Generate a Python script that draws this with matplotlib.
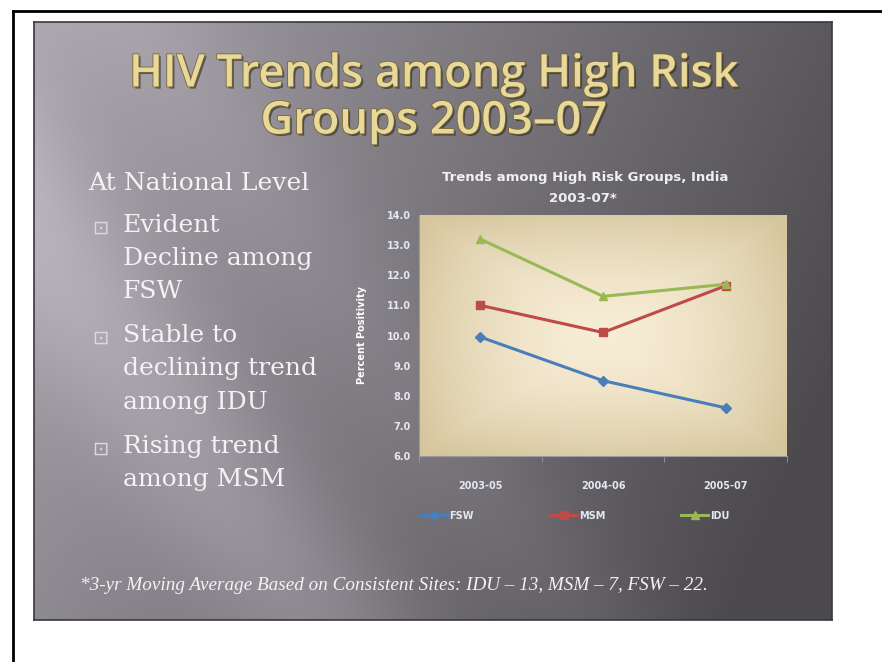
import numpy as np
import matplotlib.pyplot as plt
import matplotlib.patheffects as pe
from matplotlib.lines import Line2D

# data
periods = ['2003-05', '2004-06', '2005-07']
fsw = [9.95, 8.5, 7.6]
msm = [11.0, 10.1, 11.65]
idu = [13.2, 11.3, 11.7]
series_names = ['FSW', 'MSM', 'IDU']
series_colors = ['#4a7ebb', '#be4b48', '#98b954']
series_markers = ['D', 's', '^']
y_ticks = [6.0, 7.0, 8.0, 9.0, 10.0, 11.0, 12.0, 13.0, 14.0]

bullets = [
    ['Evident', 'Decline among', 'FSW'],
    ['Stable to', 'declining trend', 'among IDU'],
    ['Rising trend', 'among MSM'],
]

W, H = 882, 662
fig = plt.figure(figsize=(W / 100, H / 100), dpi=100)
fig.patch.set_facecolor('white')


def fx(px):
    return px / W


def fy(py):
    return 1 - py / H


# frame lines
fig.add_artist(Line2D([fx(13), fx(13)], [fy(11), 0], color='black', lw=2, transform=fig.transFigure))
fig.add_artist(Line2D([fx(13), 1], [fy(11), fy(11)], color='black', lw=2, transform=fig.transFigure))

# slide background
bg = fig.add_axes([fx(34), fy(620), fx(832) - fx(34), fy(22) - fy(620)])
xx, yy = np.meshgrid(np.linspace(0, 1, 400), np.linspace(0, 1, 300))
base = 0.66 - 0.30 * xx - 0.10 * yy
streak = 0.10 * np.exp(-((xx * 0.9 + (1 - yy) * 0.5 - 0.32) / 0.12) ** 2)
streak2 = 0.04 * np.exp(-((xx * 0.9 + (1 - yy) * 0.5 - 0.62) / 0.10) ** 2)
v = np.clip(base + streak + streak2, 0.3, 0.8)
img = np.dstack([v * 1.0, v * 0.97, v * 1.02])
bg.imshow(np.clip(img, 0, 1), extent=[0, 1, 0, 1], aspect='auto', origin='upper')
bg.set_xlim(0, 1)
bg.set_ylim(0, 1)
bg.set_xticks([])
bg.set_yticks([])
for s in bg.spines.values():
    s.set_color('#3a383c')
    s.set_linewidth(1.2)

# slide title
title_fx = [pe.withSimplePatchShadow(offset=(1.5, -1.5), shadow_rgbFace='#2a2824', alpha=0.6),
            pe.withStroke(linewidth=1.2, foreground='#7a6832')]
fig.text(fx(434), fy(75), 'HIV Trends among High Risk', ha='center', va='center',
         fontsize=32.5, fontweight='semibold', color='#e8d89a', family='Open Sans',
         path_effects=title_fx)
fig.text(fx(434), fy(122), 'Groups 2003\u201307', ha='center', va='center',
         fontsize=32.5, fontweight='semibold', color='#e8d89a', family='Open Sans',
         path_effects=title_fx)

# left text
txt_color = '#f4f2f4'
fig.text(fx(88), fy(184), 'At National Level', ha='left', va='center', fontsize=18,
         color=txt_color, family='DejaVu Serif')
y = 225
for group in bullets:
    fig.text(fx(92), fy(y + 3), '\u22a1', ha='left', va='center', fontsize=14,
             color='#dcdadc', family='DejaVu Sans')
    for line in group:
        fig.text(fx(123), fy(y), line, ha='left', va='center', fontsize=18,
                 color=txt_color, family='DejaVu Serif')
        y += 33.5
    y += 10

fig.text(fx(80), fy(585), '*3-yr Moving Average Based on Consistent Sites: IDU \u2013 13, MSM \u2013 7, FSW \u2013 22.',
         ha='left', va='center', fontsize=13.8, style='italic', color=txt_color, family='Liberation Serif')

# chart
ax = fig.add_axes([fx(419), fy(456), fx(787) - fx(419), fy(215) - fy(456)])
gx, gy = np.meshgrid(np.linspace(-1, 1, 300), np.linspace(-1, 1, 200))
r = np.clip(np.maximum(np.abs(gx) ** 1.5, np.abs(gy) ** 1.5) * 0.6 + (gx ** 2 + gy ** 2) * 0.25, 0, 1)
c0 = np.array([0.97, 0.93, 0.84])
c1 = np.array([0.84, 0.78, 0.62])
grad = c0[None, None, :] * (1 - r[..., None]) + c1[None, None, :] * r[..., None]
ax.imshow(grad, extent=[-0.5, 2.5, 6, 14], aspect='auto', zorder=0)

x = np.arange(len(periods))
for vals, name, col, mk in zip([fsw, msm, idu], series_names, series_colors, series_markers):
    ax.plot(x, vals, color=col, marker=mk, markersize=5.5, lw=2.2, label=name, zorder=3)

ax.set_xlim(-0.5, 2.5)
ax.set_ylim(6, 14)
ax.set_yticks(y_ticks)
ax.set_yticklabels([f'{t:.1f}' for t in y_ticks])
ax.set_xticks(x)
ax.set_xticklabels(periods)
ax.set_xticks([-0.5, 0.5, 1.5, 2.5], minor=True)
lab_color = '#e4e8f0'
ax.tick_params(axis='x', which='major', length=0, pad=18, labelsize=7, labelcolor=lab_color)
ax.tick_params(axis='x', which='minor', length=4, color='#9a9aa0')
ax.tick_params(axis='y', length=0, pad=6, labelsize=7, labelcolor=lab_color)
for t in ax.get_xticklabels() + ax.get_yticklabels():
    t.set_fontweight('bold')
for s in ['top', 'right']:
    ax.spines[s].set_visible(False)
for s in ['left', 'bottom']:
    ax.spines[s].set_color('#9a9aa0')
ax.set_ylabel('Percent Positivity', fontsize=7, fontweight='bold', color='white', labelpad=14)

fig.text(fx(585), fy(178), 'Trends among High Risk Groups, India', ha='center', va='center',
         fontsize=9.5, fontweight='bold', color='#eef0f6')
fig.text(fx(583), fy(199), '2003-07*', ha='center', va='center',
         fontsize=9.5, fontweight='bold', color='#eef0f6')

leg = ax.legend(loc='upper left', bbox_to_anchor=(-0.02, -0.19), ncol=3, frameon=False,
                fontsize=7, handlelength=2.8, columnspacing=7.8, handletextpad=0.2)
for t in leg.get_texts():
    t.set_color(lab_color)
    t.set_fontweight('bold')

fig.savefig('out.png', dpi=100)
